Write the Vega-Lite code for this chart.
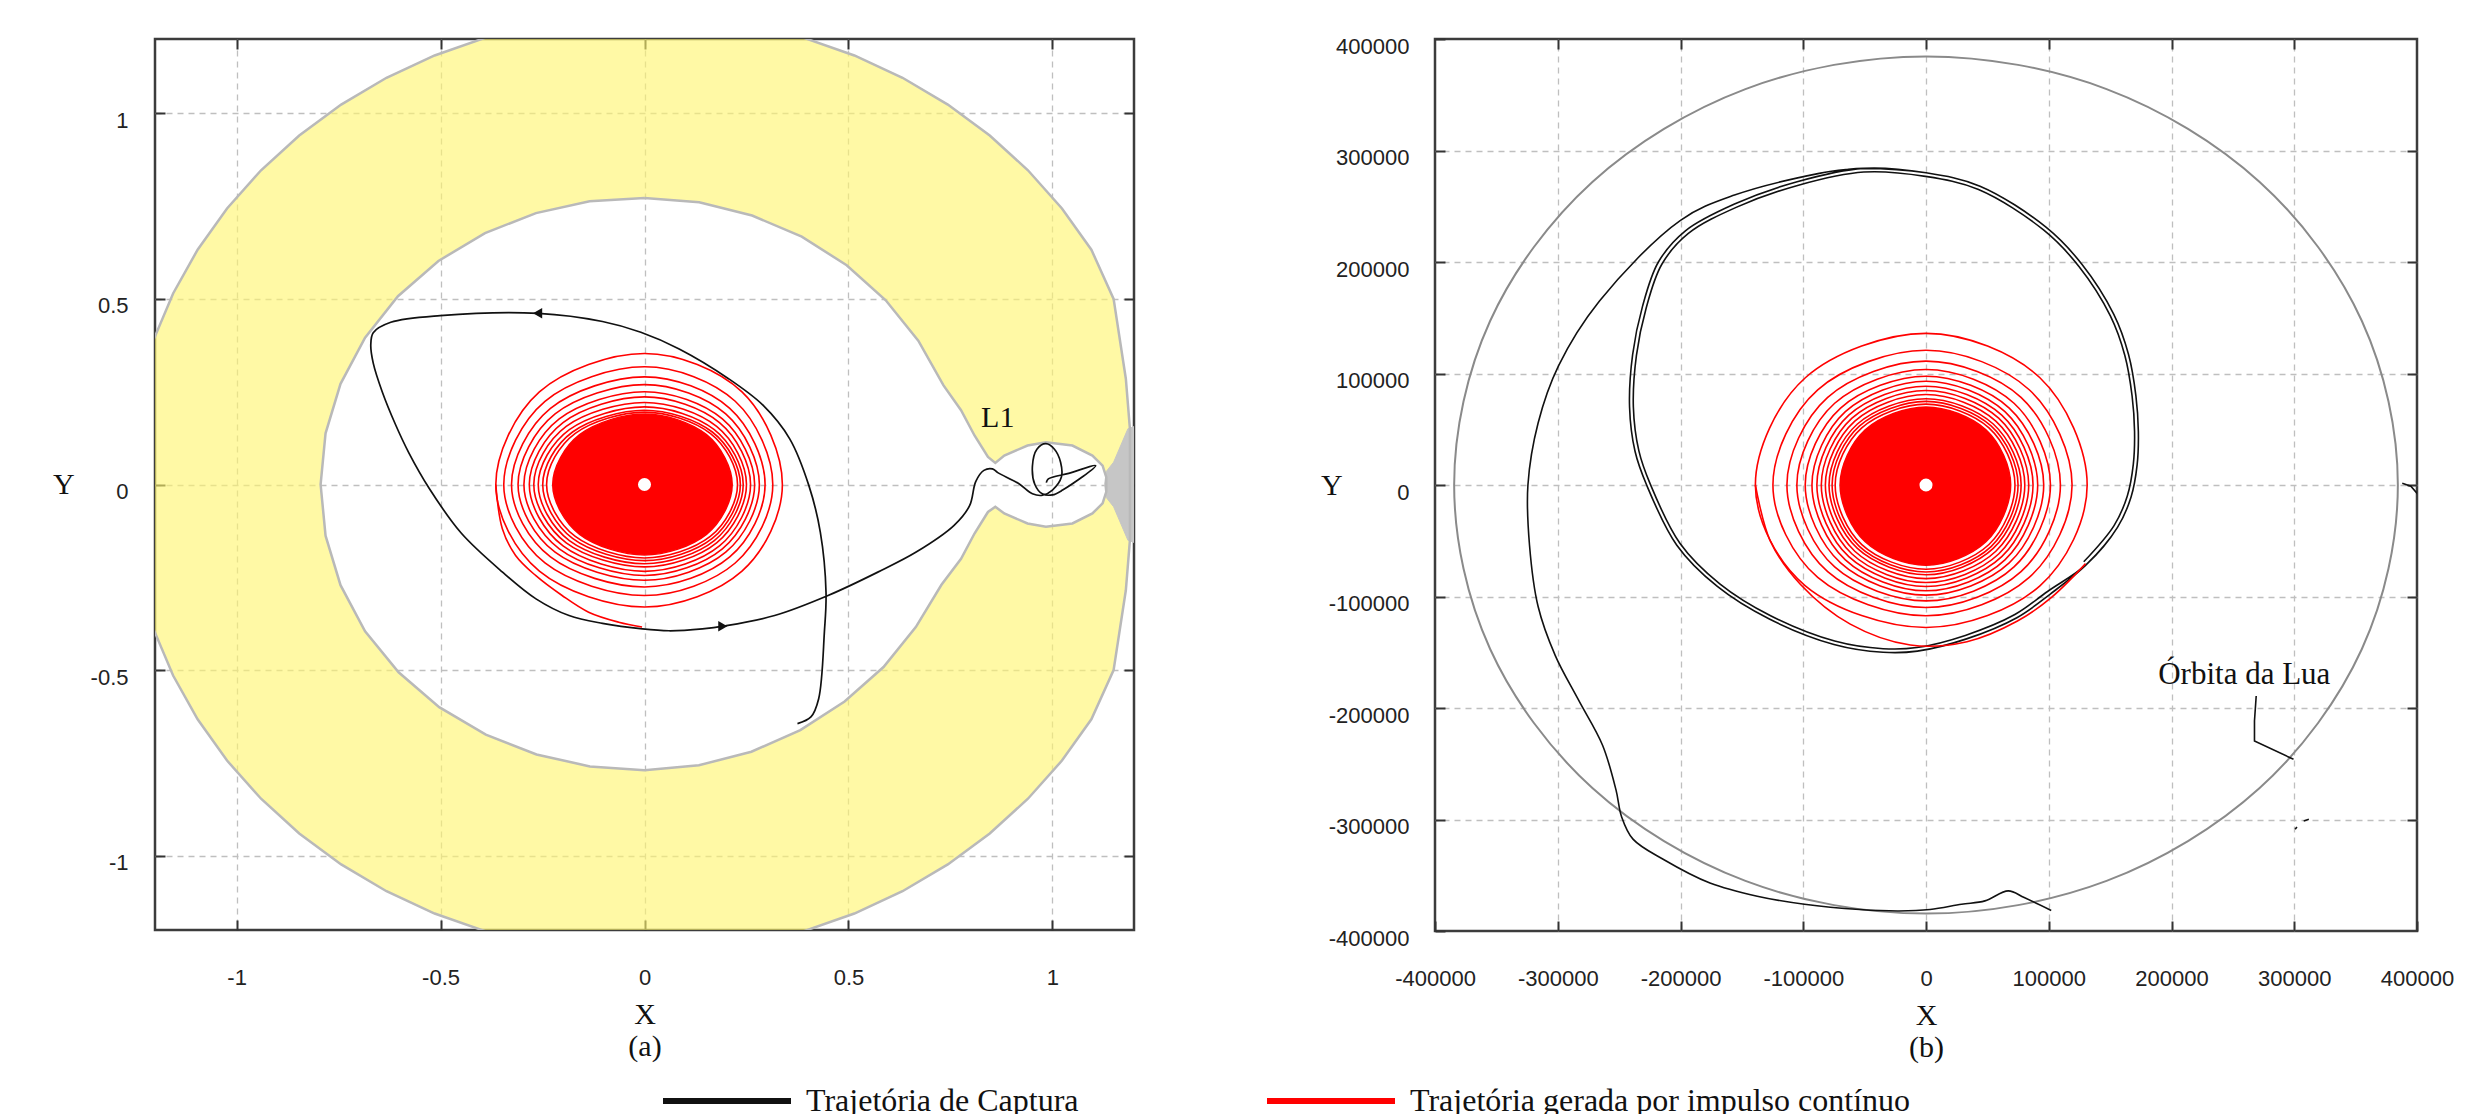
{
  "$schema": "https://vega.github.io/schema/vega-lite/v6.json",
  "background": "white",
  "padding": {"left": 51, "top": 33, "right": 0, "bottom": 0},
  "spacing": 182,
  "config": {
    "view": {"stroke": "#3c3c3c", "strokeWidth": 2.5},
    "axis": {"domain": false, "labelFont": "Liberation Sans", "labelFontSize": 22, "labelColor": "#222222", "titleFont": "Liberation Serif", "titleFontSize": 30, "titleFontWeight": "normal", "titleColor": "#111111", "gridColor": "#bfbfbf", "gridDash": [6, 5], "gridWidth": 1.3, "tickColor": "#333333", "tickWidth": 2, "tickSize": -10, "labelOverlap": false, "labelFlush": false, "labelBound": false},
    "legend": {"orient": "none", "legendX": 505, "legendY": 995, "direction": "horizontal", "symbolType": "stroke", "symbolSize": 16384, "symbolStrokeWidth": 6, "labelFont": "Liberation Serif", "labelFontSize": 32, "labelColor": "#111111", "labelLimit": 0, "labelOffset": 12, "columnPadding": 176, "padding": 0}
  },
  "datasets": {
    "zvc": [
      {"k":1,"p":"o","x":1.19,"y":0},{"k":2,"p":"o","x":1.19,"y":-0.15},{"k":3,"p":"o","x":1.18,"y":-0.285},{"k":4,"p":"o","x":1.15,"y":-0.5},
      {"k":5,"p":"o","x":1.0955,"y":-0.6325},{"k":6,"p":"o","x":1.0234,"y":-0.7436},{"k":7,"p":"o","x":0.94,"y":-0.8464},{"k":8,"p":"o","x":0.8464,"y":-0.94},
      {"k":9,"p":"o","x":0.7436,"y":-1.0234},{"k":10,"p":"o","x":0.6325,"y":-1.0955},{"k":11,"p":"o","x":0.5145,"y":-1.1556},{"k":12,"p":"o","x":0.3909,"y":-1.2031},
      {"k":13,"p":"o","x":0,"y":-1.265},{"k":14,"p":"o","x":-0.3909,"y":-1.2031},{"k":15,"p":"o","x":-0.5145,"y":-1.1556},{"k":16,"p":"o","x":-0.6325,"y":-1.0955},
      {"k":17,"p":"o","x":-0.7436,"y":-1.0234},{"k":18,"p":"o","x":-0.8464,"y":-0.94},{"k":19,"p":"o","x":-0.94,"y":-0.8464},{"k":20,"p":"o","x":-1.0234,"y":-0.7436},
      {"k":21,"p":"o","x":-1.0955,"y":-0.6325},{"k":22,"p":"o","x":-1.1556,"y":-0.5145},{"k":23,"p":"o","x":-1.2031,"y":-0.3909},{"k":24,"p":"o","x":-1.265,"y":0},
      {"k":25,"p":"o","x":-1.2031,"y":0.3909},{"k":26,"p":"o","x":-1.1556,"y":0.5145},{"k":27,"p":"o","x":-1.0955,"y":0.6325},{"k":28,"p":"o","x":-1.0234,"y":0.7436},
      {"k":29,"p":"o","x":-0.94,"y":0.8464},{"k":30,"p":"o","x":-0.8464,"y":0.94},{"k":31,"p":"o","x":-0.7436,"y":1.0234},{"k":32,"p":"o","x":-0.6325,"y":1.0955},
      {"k":33,"p":"o","x":-0.5145,"y":1.1556},{"k":34,"p":"o","x":-0.3909,"y":1.2031},{"k":35,"p":"o","x":0,"y":1.265},
      {"k":36,"p":"h","x":0,"y":0.772},{"k":37,"p":"h","x":-0.1346,"y":0.7632},{"k":38,"p":"h","x":-0.2661,"y":0.7311},{"k":39,"p":"h","x":-0.391,"y":0.6772},
      {"k":40,"p":"h","x":-0.5052,"y":0.6021},{"k":41,"p":"h","x":-0.6044,"y":0.5072},{"k":42,"p":"h","x":-0.685,"y":0.3955},{"k":43,"p":"h","x":-0.7452,"y":0.2712},
      {"k":44,"p":"h","x":-0.7819,"y":0.1378},{"k":45,"p":"h","x":-0.794,"y":0},{"k":46,"p":"h","x":-0.7819,"y":-0.1378},{"k":47,"p":"h","x":-0.7452,"y":-0.2712},
      {"k":48,"p":"h","x":-0.685,"y":-0.3955},{"k":49,"p":"h","x":-0.6028,"y":-0.5059},{"k":50,"p":"h","x":-0.5033,"y":-0.5998},{"k":51,"p":"h","x":-0.389,"y":-0.6737},
      {"k":52,"p":"h","x":-0.2647,"y":-0.7273},{"k":53,"p":"h","x":-0.1338,"y":-0.7593},{"k":54,"p":"h","x":0,"y":-0.77},{"k":55,"p":"h","x":0.1333,"y":-0.7563},
      {"k":56,"p":"h","x":0.262,"y":-0.7198},{"k":57,"p":"h","x":0.382,"y":-0.6616},{"k":58,"p":"h","x":0.4905,"y":-0.5845},{"k":59,"p":"h","x":0.586,"y":-0.4917},
      {"k":60,"p":"h","x":0.6651,"y":-0.384},{"k":61,"p":"h","x":0.728,"y":-0.27},{"k":62,"p":"h","x":0.776,"y":-0.2},{"k":63,"p":"h","x":0.809,"y":-0.132},
      {"k":64,"p":"h","x":0.842,"y":-0.074},{"k":65,"p":"h","x":0.86,"y":-0.06},{"k":66,"p":"h","x":0.882,"y":-0.078},{"k":67,"p":"h","x":0.939,"y":-0.105},
      {"k":68,"p":"h","x":0.984,"y":-0.114},{"k":69,"p":"h","x":1.049,"y":-0.105},{"k":70,"p":"h","x":1.098,"y":-0.078},{"k":71,"p":"h","x":1.123,"y":-0.051},
      {"k":72,"p":"h","x":1.132,"y":-0.02},{"k":73,"p":"h","x":1.132,"y":0.02},{"k":74,"p":"h","x":1.123,"y":0.051},{"k":75,"p":"h","x":1.098,"y":0.078},
      {"k":76,"p":"h","x":1.049,"y":0.105},{"k":77,"p":"h","x":0.984,"y":0.114},{"k":78,"p":"h","x":0.939,"y":0.105},{"k":79,"p":"h","x":0.882,"y":0.078},
      {"k":80,"p":"h","x":0.86,"y":0.058},{"k":81,"p":"h","x":0.842,"y":0.074},{"k":82,"p":"h","x":0.809,"y":0.132},{"k":83,"p":"h","x":0.776,"y":0.2},
      {"k":84,"p":"h","x":0.733,"y":0.267},{"k":85,"p":"h","x":0.6712,"y":0.3875},{"k":86,"p":"h","x":0.5914,"y":0.4962},{"k":87,"p":"h","x":0.4956,"y":0.5906},
      {"k":88,"p":"h","x":0.3855,"y":0.6677},{"k":89,"p":"h","x":0.2637,"y":0.7245},{"k":90,"p":"h","x":0.1341,"y":0.7603},{"k":91,"p":"h","x":0,"y":0.772},
      {"k":92,"p":"o","x":0,"y":1.265},{"k":93,"p":"o","x":0.3909,"y":1.2031},{"k":94,"p":"o","x":0.5145,"y":1.1556},{"k":95,"p":"o","x":0.6325,"y":1.0955},
      {"k":96,"p":"o","x":0.7436,"y":1.0234},{"k":97,"p":"o","x":0.8464,"y":0.94},{"k":98,"p":"o","x":0.94,"y":0.8464},{"k":99,"p":"o","x":1.0234,"y":0.7436},
      {"k":100,"p":"o","x":1.0955,"y":0.6325},{"k":101,"p":"o","x":1.15,"y":0.5},{"k":102,"p":"o","x":1.18,"y":0.285},{"k":103,"p":"o","x":1.19,"y":0.15},{"k":104,"p":"o","x":1.19,"y":0}
    ],
    "l2": [
      {"i":1,"x":1.128,"y":0},{"i":2,"x":1.132,"y":0.035},{"i":3,"x":1.15,"y":0.06},{"i":4,"x":1.185,"y":0.15},{"i":5,"x":1.21,"y":0.16},
      {"i":6,"x":1.21,"y":-0.16},{"i":7,"x":1.185,"y":-0.15},{"i":8,"x":1.15,"y":-0.06},{"i":9,"x":1.132,"y":-0.035}
    ],
    "ringsA": [
      {"r":1,"i":1,"x":0.338,"y":0},{"r":1,"i":2,"x":0.239,"y":0.2496},{"r":1,"i":3,"x":0,"y":0.353},{"r":1,"i":4,"x":-0.2577,"y":0.2496},{"r":1,"i":5,"x":-0.3645,"y":0},{"r":1,"i":6,"x":-0.2577,"y":-0.2333},{"r":1,"i":7,"x":0,"y":-0.33},{"r":1,"i":8,"x":0.239,"y":-0.2333},
      {"r":2,"i":1,"x":0.3145,"y":0},{"r":2,"i":2,"x":0.2224,"y":0.2242},{"r":2,"i":3,"x":0,"y":0.317},{"r":2,"i":4,"x":-0.244,"y":0.2242},{"r":2,"i":5,"x":-0.345,"y":0},{"r":2,"i":6,"x":-0.244,"y":-0.2114},{"r":2,"i":7,"x":0,"y":-0.299},{"r":2,"i":8,"x":0.2224,"y":-0.2114},
      {"r":3,"i":1,"x":0.2956,"y":0},{"r":3,"i":2,"x":0.209,"y":0.2051},{"r":3,"i":3,"x":0,"y":0.29},{"r":3,"i":4,"x":-0.2305,"y":0.2051},{"r":3,"i":5,"x":-0.326,"y":0},{"r":3,"i":6,"x":-0.2305,"y":-0.1952},{"r":3,"i":7,"x":0,"y":-0.276},{"r":3,"i":8,"x":0.209,"y":-0.1952},
      {"r":4,"i":1,"x":0.2816,"y":0},{"r":4,"i":2,"x":0.1991,"y":0.1902},{"r":4,"i":3,"x":0,"y":0.269},{"r":4,"i":4,"x":-0.2192,"y":0.1902},{"r":4,"i":5,"x":-0.31,"y":0},{"r":4,"i":6,"x":-0.2192,"y":-0.1824},{"r":4,"i":7,"x":0,"y":-0.258},{"r":4,"i":8,"x":0.1991,"y":-0.1824},
      {"r":5,"i":1,"x":0.27,"y":0},{"r":5,"i":2,"x":0.1909,"y":0.1768},{"r":5,"i":3,"x":0,"y":0.25},{"r":5,"i":4,"x":-0.209,"y":0.1768},{"r":5,"i":5,"x":-0.2956,"y":0},{"r":5,"i":6,"x":-0.209,"y":-0.1732},{"r":5,"i":7,"x":0,"y":-0.245},{"r":5,"i":8,"x":0.1909,"y":-0.1732},
      {"r":6,"i":1,"x":0.26,"y":0},{"r":6,"i":2,"x":0.1838,"y":0.1669},{"r":6,"i":3,"x":0,"y":0.236},{"r":6,"i":4,"x":-0.1997,"y":0.1669},{"r":6,"i":5,"x":-0.2824,"y":0},{"r":6,"i":6,"x":-0.1997,"y":-0.1655},{"r":6,"i":7,"x":0,"y":-0.234},{"r":6,"i":8,"x":0.1838,"y":-0.1655},
      {"r":7,"i":1,"x":0.25,"y":0},{"r":7,"i":2,"x":0.1768,"y":0.1563},{"r":7,"i":3,"x":0,"y":0.221},{"r":7,"i":4,"x":-0.1919,"y":0.1563},{"r":7,"i":5,"x":-0.2714,"y":0},{"r":7,"i":6,"x":-0.1919,"y":-0.157},{"r":7,"i":7,"x":0,"y":-0.222},{"r":7,"i":8,"x":0.1768,"y":-0.157},
      {"r":8,"i":1,"x":0.242,"y":0},{"r":8,"i":2,"x":0.1711,"y":0.1478},{"r":8,"i":3,"x":0,"y":0.209},{"r":8,"i":4,"x":-0.1842,"y":0.1478},{"r":8,"i":5,"x":-0.2605,"y":0},{"r":8,"i":6,"x":-0.1842,"y":-0.151},{"r":8,"i":7,"x":0,"y":-0.2135},{"r":8,"i":8,"x":0.1711,"y":-0.151},
      {"r":9,"i":1,"x":0.235,"y":0},{"r":9,"i":2,"x":0.1662,"y":0.1414},{"r":9,"i":3,"x":0,"y":0.2},{"r":9,"i":4,"x":-0.1764,"y":0.1414},{"r":9,"i":5,"x":-0.2495,"y":0},{"r":9,"i":6,"x":-0.1764,"y":-0.145},{"r":9,"i":7,"x":0,"y":-0.205},{"r":9,"i":8,"x":0.1662,"y":-0.145},
      {"r":10,"i":1,"x":0.228,"y":0},{"r":10,"i":2,"x":0.1612,"y":0.1379},{"r":10,"i":3,"x":0,"y":0.195},{"r":10,"i":4,"x":-0.1697,"y":0.1379},{"r":10,"i":5,"x":-0.24,"y":0},{"r":10,"i":6,"x":-0.1697,"y":-0.14},{"r":10,"i":7,"x":0,"y":-0.198},{"r":10,"i":8,"x":0.1612,"y":-0.14}
    ],
    "coreA": [
      {"i":1,"x":0.215,"y":0},{"i":2,"x":0.152,"y":0.1343},{"i":3,"x":0,"y":0.19},{"i":4,"x":-0.1591,"y":0.1343},{"i":5,"x":-0.225,"y":0},{"i":6,"x":-0.1591,"y":-0.1343},{"i":7,"x":0,"y":-0.19},{"i":8,"x":0.152,"y":-0.1343}
    ],
    "arcA": [
      {"i":1,"x":-0.3645,"y":0},{"i":2,"x":-0.3485,"y":-0.119},{"i":3,"x":-0.316,"y":-0.191},{"i":4,"x":-0.267,"y":-0.245},{"i":5,"x":-0.202,"y":-0.299},{"i":6,"x":-0.137,"y":-0.344},{"i":7,"x":-0.063,"y":-0.371},{"i":8,"x":-0.006,"y":-0.384}
    ],
    "trajA": [
      {"i":1,"x":0.375,"y":-0.644},{"i":2,"x":0.408,"y":-0.626},{"i":3,"x":0.427,"y":-0.577},{"i":4,"x":0.441,"y":-0.397},{"i":5,"x":0.445,"y":-0.29},
      {"i":6,"x":0.431,"y":-0.128},{"i":7,"x":0.403,"y":-0.003},{"i":8,"x":0.356,"y":0.123},{"i":9,"x":0.291,"y":0.213},{"i":10,"x":0.206,"y":0.285},
      {"i":11,"x":0.085,"y":0.365},{"i":12,"x":-0.009,"y":0.41},{"i":13,"x":-0.103,"y":0.439},{"i":14,"x":-0.26,"y":0.461},{"i":15,"x":-0.501,"y":0.455},
      {"i":16,"x":-0.622,"y":0.437},{"i":17,"x":-0.665,"y":0.409},{"i":18,"x":-0.671,"y":0.375},{"i":19,"x":-0.665,"y":0.327},{"i":20,"x":-0.643,"y":0.25},
      {"i":21,"x":-0.611,"y":0.163},{"i":22,"x":-0.578,"y":0.086},{"i":23,"x":-0.528,"y":-0.01},{"i":24,"x":-0.45,"y":-0.13},{"i":25,"x":-0.348,"y":-0.236},
      {"i":26,"x":-0.266,"y":-0.308},{"i":27,"x":-0.185,"y":-0.353},{"i":28,"x":-0.103,"y":-0.374},{"i":29,"x":-0.005,"y":-0.389},{"i":30,"x":0.06,"y":-0.394},
      {"i":31,"x":0.142,"y":-0.389},{"i":32,"x":0.197,"y":-0.381},{"i":33,"x":0.319,"y":-0.353},{"i":34,"x":0.45,"y":-0.299},{"i":35,"x":0.572,"y":-0.236},
      {"i":36,"x":0.666,"y":-0.182},{"i":37,"x":0.759,"y":-0.11},{"i":38,"x":0.797,"y":-0.057},{"i":39,"x":0.812,"y":0.008},{"i":40,"x":0.832,"y":0.038},
      {"i":41,"x":0.853,"y":0.042},{"i":42,"x":0.866,"y":0.032},{"i":43,"x":0.918,"y":0.002},{"i":44,"x":0.951,"y":-0.025},{"i":45,"x":0.976,"y":-0.029},
      {"i":46,"x":1.0,"y":-0.015},{"i":47,"x":1.022,"y":0.02},{"i":48,"x":1.02,"y":0.06},{"i":49,"x":1.005,"y":0.095},{"i":50,"x":0.984,"y":0.11},
      {"i":51,"x":0.962,"y":0.095},{"i":52,"x":0.951,"y":0.05},{"i":53,"x":0.957,"y":0.0},{"i":54,"x":0.975,"y":-0.025},{"i":55,"x":1.0,"y":-0.028},
      {"i":56,"x":1.025,"y":-0.015},{"i":57,"x":1.106,"y":0.051},{"i":58,"x":1.04,"y":0.03},{"i":59,"x":0.99,"y":0.015},{"i":60,"x":0.985,"y":0.005}
    ],
    "arrowsA": [{"x":-0.262,"y":0.461,"d":"l"},{"x":0.192,"y":-0.382,"d":"r"}],
    "labelsA": [{"x":0.866,"y":0.1545,"t":"L1"}],
    "origin": [{"x":0,"y":0}],
    "moon": [
      {"i":1,"x":384400,"y":0},{"i":2,"x":355100,"y":147100},{"i":3,"x":271800,"y":271800},{"i":4,"x":147100,"y":355100},
      {"i":5,"x":0,"y":384400},{"i":6,"x":-147100,"y":355100},{"i":7,"x":-271800,"y":271800},{"i":8,"x":-355100,"y":147100},
      {"i":9,"x":-384400,"y":0},{"i":10,"x":-355100,"y":-147100},{"i":11,"x":-271800,"y":-271800},{"i":12,"x":-147100,"y":-355100},
      {"i":13,"x":0,"y":-384400},{"i":14,"x":147100,"y":-355100},{"i":15,"x":271800,"y":-271800},{"i":16,"x":355100,"y":-147100}
    ],
    "ringsB": [
      {"r":1,"i":1,"x":131300,"y":0},{"r":1,"i":2,"x":92800,"y":96200},{"r":1,"i":3,"x":0,"y":136000},{"r":1,"i":4,"x":-98300,"y":96200},{"r":1,"i":5,"x":-139000,"y":0},{"r":1,"i":6,"x":-98300,"y":-90400},{"r":1,"i":7,"x":0,"y":-127800},{"r":1,"i":8,"x":92800,"y":-90400},
      {"r":2,"i":1,"x":119000,"y":0},{"r":2,"i":2,"x":84100,"y":85400},{"r":2,"i":3,"x":0,"y":120800},{"r":2,"i":4,"x":-88200,"y":85400},{"r":2,"i":5,"x":-124700,"y":0},{"r":2,"i":6,"x":-88200,"y":-82900},{"r":2,"i":7,"x":0,"y":-117300},{"r":2,"i":8,"x":84100,"y":-82900},
      {"r":3,"i":1,"x":109500,"y":0},{"r":3,"i":2,"x":77400,"y":78600},{"r":3,"i":3,"x":0,"y":111100},{"r":3,"i":4,"x":-80100,"y":78600},{"r":3,"i":5,"x":-113300,"y":0},{"r":3,"i":6,"x":-80100,"y":-77700},{"r":3,"i":7,"x":0,"y":-109900},{"r":3,"i":8,"x":77400,"y":-77700},
      {"r":4,"i":1,"x":101400,"y":0},{"r":4,"i":2,"x":71700,"y":73300},{"r":4,"i":3,"x":0,"y":103600},{"r":4,"i":4,"x":-74400,"y":73300},{"r":4,"i":5,"x":-105200,"y":0},{"r":4,"i":6,"x":-74400,"y":-73500},{"r":4,"i":7,"x":0,"y":-103900},{"r":4,"i":8,"x":71700,"y":-73500},
      {"r":5,"i":1,"x":95900,"y":0},{"r":5,"i":2,"x":67800,"y":69000},{"r":5,"i":3,"x":0,"y":97600},{"r":5,"i":4,"x":-69600,"y":69000},{"r":5,"i":5,"x":-98400,"y":0},{"r":5,"i":6,"x":-69600,"y":-69900},{"r":5,"i":7,"x":0,"y":-98800},{"r":5,"i":8,"x":67800,"y":-69900},
      {"r":6,"i":1,"x":91000,"y":0},{"r":6,"i":2,"x":64300,"y":65800},{"r":6,"i":3,"x":0,"y":93100},{"r":6,"i":4,"x":-65700,"y":65800},{"r":6,"i":5,"x":-92900,"y":0},{"r":6,"i":6,"x":-65700,"y":-67100},{"r":6,"i":7,"x":0,"y":-94900},{"r":6,"i":8,"x":64300,"y":-67100},
      {"r":7,"i":1,"x":87200,"y":0},{"r":7,"i":2,"x":61700,"y":62600},{"r":7,"i":3,"x":0,"y":88600},{"r":7,"i":4,"x":-62900,"y":62600},{"r":7,"i":5,"x":-88900,"y":0},{"r":7,"i":6,"x":-62900,"y":-64300},{"r":7,"i":7,"x":0,"y":-91000},{"r":7,"i":8,"x":61700,"y":-64300},
      {"r":8,"i":1,"x":83700,"y":0},{"r":8,"i":2,"x":59200,"y":59900},{"r":8,"i":3,"x":0,"y":84700},{"r":8,"i":4,"x":-60300,"y":59900},{"r":8,"i":5,"x":-85300,"y":0},{"r":8,"i":6,"x":-60300,"y":-61900},{"r":8,"i":7,"x":0,"y":-87500},{"r":8,"i":8,"x":59200,"y":-61900},
      {"r":9,"i":1,"x":80500,"y":0},{"r":9,"i":2,"x":56900,"y":57300},{"r":9,"i":3,"x":0,"y":81100},{"r":9,"i":4,"x":-58000,"y":57300},{"r":9,"i":5,"x":-82000,"y":0},{"r":9,"i":6,"x":-58000,"y":-59400},{"r":9,"i":7,"x":0,"y":-84000},{"r":9,"i":8,"x":56900,"y":-59400},
      {"r":10,"i":1,"x":77500,"y":0},{"r":10,"i":2,"x":54800,"y":54700},{"r":10,"i":3,"x":0,"y":77400},{"r":10,"i":4,"x":-55900,"y":54700},{"r":10,"i":5,"x":-79000,"y":0},{"r":10,"i":6,"x":-55900,"y":-56900},{"r":10,"i":7,"x":0,"y":-80500},{"r":10,"i":8,"x":54800,"y":-56900},
      {"r":11,"i":1,"x":75000,"y":0},{"r":11,"i":2,"x":53000,"y":53000},{"r":11,"i":3,"x":0,"y":75000},{"r":11,"i":4,"x":-54100,"y":53000},{"r":11,"i":5,"x":-76500,"y":0},{"r":11,"i":6,"x":-54100,"y":-55200},{"r":11,"i":7,"x":0,"y":-78000},{"r":11,"i":8,"x":53000,"y":-55200},
      {"r":12,"i":1,"x":72500,"y":0},{"r":12,"i":2,"x":51300,"y":51300},{"r":12,"i":3,"x":0,"y":72500},{"r":12,"i":4,"x":-52300,"y":51300},{"r":12,"i":5,"x":-74000,"y":0},{"r":12,"i":6,"x":-52300,"y":-53400},{"r":12,"i":7,"x":0,"y":-75500},{"r":12,"i":8,"x":51300,"y":-53400}
    ],
    "coreB": [
      {"i":1,"x":69000,"y":0},{"i":2,"x":48800,"y":49500},{"i":3,"x":0,"y":70000},{"i":4,"x":-49500,"y":49500},{"i":5,"x":-70000,"y":0},{"i":6,"x":-49500,"y":-50900},{"i":7,"x":0,"y":-72000},{"i":8,"x":48800,"y":-50900}
    ],
    "arcB": [
      {"i":1,"x":-139000,"y":0},{"i":2,"x":-126900,"y":-50100},{"i":3,"x":-102400,"y":-89000},{"i":4,"x":-61700,"y":-124800},{"i":5,"x":-12800,"y":-143500},
      {"i":6,"x":33400,"y":-140500},{"i":7,"x":74500,"y":-122000},{"i":8,"x":102500,"y":-100500},{"i":9,"x":130000,"y":-70500}
    ],
    "trajB": [
      {"i":1,"x":128500,"y":-68900},{"i":2,"x":153200,"y":-36400},{"i":3,"x":164000,"y":-9800},{"i":4,"x":168900,"y":18700},{"i":5,"x":169900,"y":48300},
      {"i":6,"x":167900,"y":79800},{"i":7,"x":162000,"y":116200},{"i":8,"x":150200,"y":151700},{"i":9,"x":124600,"y":196000},{"i":10,"x":96000,"y":228500},
      {"i":11,"x":42800,"y":265000},{"i":12,"x":-500,"y":276800},{"i":13,"x":-50700,"y":280700},{"i":14,"x":-103900,"y":268900},{"i":15,"x":-154200,"y":249200},
      {"i":16,"x":-193600,"y":225600},{"i":17,"x":-215200,"y":198000},{"i":18,"x":-228000,"y":158600},{"i":19,"x":-235900,"y":116200},{"i":20,"x":-238400,"y":70000},
      {"i":21,"x":-233900,"y":30600},{"i":22,"x":-224700,"y":1000},{"i":23,"x":-200500,"y":-52200},{"i":24,"x":-168000,"y":-88600},{"i":25,"x":-126600,"y":-117200},
      {"i":26,"x":-74400,"y":-139900},{"i":27,"x":-35000,"y":-146800},{"i":28,"x":-7400,"y":-145800},{"i":29,"x":32000,"y":-134900},{"i":30,"x":72400,"y":-116200},
      {"i":31,"x":99000,"y":-95500},
      {"i":32,"x":131000,"y":-71000},{"i":33,"x":156000,"y":-38000},{"i":34,"x":167000,"y":-11000},{"i":35,"x":172000,"y":18000},{"i":36,"x":173000,"y":48000},
      {"i":37,"x":171000,"y":80000},{"i":38,"x":165000,"y":117000},{"i":39,"x":153000,"y":153000},{"i":40,"x":127000,"y":198000},{"i":41,"x":98000,"y":231000},
      {"i":42,"x":44000,"y":268000},{"i":43,"x":0,"y":280000},{"i":44,"x":-51000,"y":284000},{"i":45,"x":-105000,"y":272000},{"i":46,"x":-156000,"y":252000},
      {"i":47,"x":-196000,"y":228000},{"i":48,"x":-218000,"y":200000},{"i":49,"x":-231000,"y":160000},{"i":50,"x":-239000,"y":117000},{"i":51,"x":-241500,"y":70000},
      {"i":52,"x":-237000,"y":30000},{"i":53,"x":-227600,"y":0},{"i":54,"x":-203000,"y":-54000},{"i":55,"x":-170000,"y":-91000},{"i":56,"x":-128000,"y":-120000},
      {"i":57,"x":-75000,"y":-143000},{"i":58,"x":-35000,"y":-150000},{"i":59,"x":-7000,"y":-149000},{"i":60,"x":33000,"y":-138000},{"i":61,"x":74000,"y":-119000},
      {"i":62,"x":101000,"y":-98000},
      {"i":63,"x":131000,"y":-71000},{"i":64,"x":156000,"y":-38000},{"i":65,"x":167000,"y":-11000},{"i":66,"x":172000,"y":18000},{"i":67,"x":173000,"y":48000},
      {"i":68,"x":171000,"y":80000},{"i":69,"x":165000,"y":117000},{"i":70,"x":153000,"y":153000},{"i":71,"x":127000,"y":198000},{"i":72,"x":98000,"y":231000},
      {"i":73,"x":44000,"y":268000},{"i":74,"x":0,"y":280000},{"i":75,"x":-51000,"y":284000},
      {"i":76,"x":-65000,"y":283000},{"i":77,"x":-87000,"y":279500},{"i":78,"x":-156000,"y":260000},{"i":79,"x":-200000,"y":237400},{"i":80,"x":-266000,"y":165000},
      {"i":81,"x":-299400,"y":106800},{"i":82,"x":-316000,"y":55600},{"i":83,"x":-324300,"y":0},{"i":84,"x":-323000,"y":-54000},{"i":85,"x":-316000,"y":-109000},
      {"i":86,"x":-302000,"y":-153000},{"i":87,"x":-283000,"y":-193000},{"i":88,"x":-263500,"y":-233400},{"i":89,"x":-252500,"y":-273700},{"i":90,"x":-248000,"y":-297500},
      {"i":91,"x":-238700,"y":-317600},{"i":92,"x":-213800,"y":-335900},{"i":93,"x":-176000,"y":-357000},{"i":94,"x":-137500,"y":-368800},{"i":95,"x":-99000,"y":-376000},
      {"i":96,"x":-54000,"y":-380700},{"i":97,"x":-22000,"y":-382000},{"i":98,"x":3300,"y":-380700},{"i":99,"x":29000,"y":-376000},{"i":100,"x":48000,"y":-373000},
      {"i":101,"x":67000,"y":-364000},{"i":102,"x":80000,"y":-370000},{"i":103,"x":102000,"y":-381600}
    ],
    "marksB": [
      {"s":1,"i":1,"x":388000,"y":1500},{"s":1,"i":2,"x":395000,"y":-1000},{"s":1,"i":3,"x":403000,"y":-11400},
      {"s":2,"i":1,"x":307700,"y":-301300},{"s":2,"i":2,"x":311900,"y":-299800},
      {"s":3,"i":1,"x":300700,"y":-308800},{"s":3,"i":2,"x":302200,"y":-306700},
      {"s":4,"i":1,"x":269000,"y":-189200},{"s":4,"i":2,"x":267600,"y":-211700},{"s":4,"i":3,"x":267600,"y":-229600},{"s":4,"i":4,"x":299400,"y":-246000}
    ],
    "labelsB": [{"x":259300,"y":-178500,"t":"Órbita da Lua"}]
  },
  "hconcat": [
    {
      "width": 979,
      "height": 891,
      "resolve": {"axis": {"x": "independent", "y": "independent"}},
      "layer": [
        {
          "data": {"name": "zvc"},
          "mark": {"type": "line", "interpolate": "linear", "fill": "#fff66e", "fillOpacity": 0.62, "strokeOpacity": 0, "clip": true},
          "encoding": {
            "x": {"field": "x", "type": "quantitative", "scale": {"domain": [-1.2, 1.2], "nice": false, "zero": false},
              "axis": {"orient": "bottom", "values": [-1, -0.5, 0, 0.5, 1], "labelExpr": "'' + datum.value", "title": ["X", "(a)"], "titleLineHeight": 32, "labelPadding": 47, "titlePadding": 11, "grid": true}},
            "y": {"field": "y", "type": "quantitative", "scale": {"domain": [-1.2, 1.2], "nice": false, "zero": false},
              "axis": {"orient": "left", "values": [-1, -0.5, 0, 0.5, 1], "labelExpr": "'' + datum.value", "title": "Y", "titleAngle": 0, "titleAlign": "right", "titleBaseline": "middle", "labelPadding": 37, "labelOffset": 7, "titlePadding": 16, "grid": true}},
            "order": {"field": "k", "type": "quantitative"}
          }
        },
        {
          "data": {"name": "l2"},
          "mark": {"type": "line", "interpolate": "linear-closed", "fill": "#c6c6c6", "stroke": "#c6c6c6", "strokeWidth": 1, "clip": true},
          "encoding": {
            "x": {"field": "x", "type": "quantitative", "axis": null},
            "y": {"field": "y", "type": "quantitative", "axis": null},
            "order": {"field": "i", "type": "quantitative"}
          }
        },
        {
          "data": {"name": "zvc"},
          "mark": {"type": "line", "interpolate": "linear", "stroke": "#b9b9b9", "strokeWidth": 2.5, "clip": true},
          "encoding": {
            "x": {"field": "x", "type": "quantitative", "axis": {"orient": "top", "values": [-1, -0.5, 0, 0.5, 1], "labels": false, "title": null, "grid": false}},
            "y": {"field": "y", "type": "quantitative", "axis": {"orient": "right", "values": [-1, -0.5, 0, 0.5, 1], "labels": false, "title": null, "grid": false}},
            "detail": {"field": "p", "type": "nominal"},
            "order": {"field": "k", "type": "quantitative"}
          }
        },
        {
          "data": {"name": "trajA"},
          "mark": {"type": "line", "interpolate": "catmull-rom", "strokeWidth": 1.7, "clip": true},
          "encoding": {
            "x": {"field": "x", "type": "quantitative", "axis": null},
            "y": {"field": "y", "type": "quantitative", "axis": null},
            "order": {"field": "i", "type": "quantitative"},
            "color": {"datum": "Trajetória de Captura", "type": "nominal", "scale": {"domain": ["Trajetória de Captura", "Trajetória gerada por impulso contínuo"], "range": ["#111111", "#ff0000"]}, "legend": {"title": null}}
          }
        },
        {
          "data": {"name": "ringsA"},
          "mark": {"type": "line", "interpolate": "cardinal-closed", "strokeWidth": 1.6, "clip": true},
          "encoding": {
            "x": {"field": "x", "type": "quantitative", "axis": null},
            "y": {"field": "y", "type": "quantitative", "axis": null},
            "detail": {"field": "r", "type": "nominal"},
            "order": {"field": "i", "type": "quantitative"},
            "color": {"datum": "Trajetória gerada por impulso contínuo", "type": "nominal", "legend": {"title": null}}
          }
        },
        {
          "data": {"name": "arcA"},
          "mark": {"type": "line", "interpolate": "catmull-rom", "strokeWidth": 1.6, "clip": true},
          "encoding": {
            "x": {"field": "x", "type": "quantitative", "axis": null},
            "y": {"field": "y", "type": "quantitative", "axis": null},
            "order": {"field": "i", "type": "quantitative"},
            "color": {"datum": "Trajetória gerada por impulso contínuo", "type": "nominal", "legend": {"title": null}}
          }
        },
        {
          "data": {"name": "coreA"},
          "mark": {"type": "line", "interpolate": "cardinal-closed", "fill": "#ff0000", "stroke": "#ff0000", "strokeWidth": 1.5, "clip": true},
          "encoding": {
            "x": {"field": "x", "type": "quantitative", "axis": null},
            "y": {"field": "y", "type": "quantitative", "axis": null},
            "order": {"field": "i", "type": "quantitative"}
          }
        },
        {
          "data": {"name": "arrowsA"},
          "mark": {"type": "point", "filled": true, "color": "#111111", "size": 110, "opacity": 1},
          "encoding": {
            "x": {"field": "x", "type": "quantitative", "axis": null},
            "y": {"field": "y", "type": "quantitative", "axis": null},
            "shape": {"field": "d", "type": "nominal", "scale": {"domain": ["l", "r"], "range": ["triangle-left", "triangle-right"]}, "legend": null}
          }
        },
        {
          "data": {"name": "origin"},
          "mark": {"type": "point", "filled": true, "color": "#ffffff", "size": 170, "opacity": 1, "shape": "circle"},
          "encoding": {
            "x": {"field": "x", "type": "quantitative", "axis": null},
            "y": {"field": "y", "type": "quantitative", "axis": null}
          }
        },
        {
          "data": {"name": "labelsA"},
          "mark": {"type": "text", "font": "Liberation Serif", "fontSize": 30, "align": "center", "baseline": "alphabetic", "color": "#111111"},
          "encoding": {
            "x": {"field": "x", "type": "quantitative", "axis": null},
            "y": {"field": "y", "type": "quantitative", "axis": null},
            "text": {"field": "t", "type": "nominal"}
          }
        }
      ]
    },
    {
      "width": 982,
      "height": 892,
      "resolve": {"axis": {"x": "independent", "y": "independent"}},
      "layer": [
        {
          "data": {"name": "moon"},
          "mark": {"type": "line", "interpolate": "cardinal-closed", "stroke": "#8a8a8a", "strokeWidth": 2, "clip": true},
          "encoding": {
            "x": {"field": "x", "type": "quantitative", "scale": {"domain": [-400000, 400000], "nice": false, "zero": false},
              "axis": {"orient": "bottom", "values": [-400000, -300000, -200000, -100000, 0, 100000, 200000, 300000, 400000], "labelExpr": "'' + datum.value", "title": ["X", "(b)"], "titleLineHeight": 32, "labelPadding": 47, "titlePadding": 11, "grid": false}},
            "y": {"field": "y", "type": "quantitative", "scale": {"domain": [-400000, 400000], "nice": false, "zero": false},
              "axis": {"orient": "left", "values": [-400000, -300000, -200000, -100000, 0, 100000, 200000, 300000, 400000], "labelExpr": "'' + datum.value", "title": "Y", "titleAngle": 0, "titleAlign": "right", "titleBaseline": "middle", "labelPadding": 36, "labelOffset": 7, "titlePadding": -14, "grid": false}},
            "order": {"field": "i", "type": "quantitative"}
          }
        },
        {
          "data": {"name": "trajB"},
          "mark": {"type": "line", "interpolate": "catmull-rom", "strokeWidth": 1.6, "clip": true},
          "encoding": {
            "x": {"field": "x", "type": "quantitative", "axis": {"orient": "top", "values": [-300000, -200000, -100000, 0, 100000, 200000, 300000], "labels": false, "title": null, "grid": true}},
            "y": {"field": "y", "type": "quantitative", "axis": {"orient": "right", "values": [-300000, -200000, -100000, 0, 100000, 200000, 300000], "labels": false, "title": null, "grid": true}},
            "order": {"field": "i", "type": "quantitative"},
            "color": {"datum": "Trajetória de Captura", "type": "nominal", "legend": {"title": null}}
          }
        },
        {
          "data": {"name": "ringsB"},
          "mark": {"type": "line", "interpolate": "cardinal-closed", "strokeWidth": 1.6, "clip": true},
          "encoding": {
            "x": {"field": "x", "type": "quantitative", "axis": null},
            "y": {"field": "y", "type": "quantitative", "axis": null},
            "detail": {"field": "r", "type": "nominal"},
            "order": {"field": "i", "type": "quantitative"},
            "color": {"datum": "Trajetória gerada por impulso contínuo", "type": "nominal", "legend": {"title": null}}
          }
        },
        {
          "data": {"name": "arcB"},
          "mark": {"type": "line", "interpolate": "catmull-rom", "strokeWidth": 1.6, "clip": true},
          "encoding": {
            "x": {"field": "x", "type": "quantitative", "axis": null},
            "y": {"field": "y", "type": "quantitative", "axis": null},
            "order": {"field": "i", "type": "quantitative"},
            "color": {"datum": "Trajetória gerada por impulso contínuo", "type": "nominal", "legend": {"title": null}}
          }
        },
        {
          "data": {"name": "coreB"},
          "mark": {"type": "line", "interpolate": "cardinal-closed", "fill": "#ff0000", "stroke": "#ff0000", "strokeWidth": 1.5, "clip": true},
          "encoding": {
            "x": {"field": "x", "type": "quantitative", "axis": null},
            "y": {"field": "y", "type": "quantitative", "axis": null},
            "order": {"field": "i", "type": "quantitative"}
          }
        },
        {
          "data": {"name": "marksB"},
          "mark": {"type": "line", "interpolate": "linear", "stroke": "#111111", "strokeWidth": 1.6, "clip": true},
          "encoding": {
            "x": {"field": "x", "type": "quantitative", "axis": null},
            "y": {"field": "y", "type": "quantitative", "axis": null},
            "detail": {"field": "s", "type": "nominal"},
            "order": {"field": "i", "type": "quantitative"}
          }
        },
        {
          "data": {"name": "origin"},
          "mark": {"type": "point", "filled": true, "color": "#ffffff", "size": 170, "opacity": 1, "shape": "circle"},
          "encoding": {
            "x": {"field": "x", "type": "quantitative", "axis": null},
            "y": {"field": "y", "type": "quantitative", "axis": null}
          }
        },
        {
          "data": {"name": "labelsB"},
          "mark": {"type": "text", "font": "Liberation Serif", "fontSize": 31, "align": "center", "baseline": "alphabetic", "color": "#111111"},
          "encoding": {
            "x": {"field": "x", "type": "quantitative", "axis": null},
            "y": {"field": "y", "type": "quantitative", "axis": null},
            "text": {"field": "t", "type": "nominal"}
          }
        }
      ]
    }
  ]
}
